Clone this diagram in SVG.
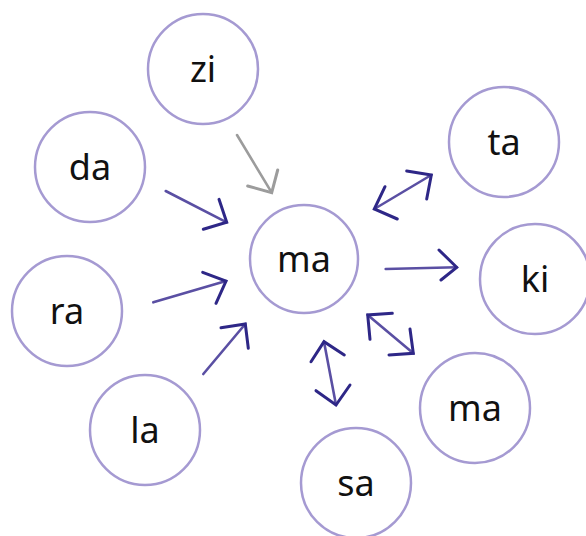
<svg xmlns="http://www.w3.org/2000/svg" width="586" height="536" viewBox="0 0 586 536">
<style>
.node circle{fill:#fff;stroke:#a59ad2;stroke-width:2.5}
.node text{font-family:"Noto Sans","DejaVu Sans",sans-serif;font-weight:450;font-size:36px;fill:#111;text-anchor:middle}
.ln{stroke:#5a4fa3;stroke-width:2.6;fill:none;stroke-linecap:round}
.hd{stroke:#2e2787;stroke-width:3;fill:none;stroke-linecap:round;stroke-linejoin:miter}
.gl{stroke:#9c9c9c;stroke-width:2.6;fill:none;stroke-linecap:round}
.gh{stroke:#9c9c9c;stroke-width:3;fill:none;stroke-linecap:round}
</style>
<rect width="586" height="536" fill="#fff"/>
<g id="n-zi" class="node"><circle cx="203" cy="69" r="55"/><text x="203" y="82">zi</text></g>
<g id="n-da" class="node"><circle cx="90" cy="167" r="55"/><text x="90" y="180">da</text></g>
<g id="n-ra" class="node"><circle cx="67" cy="311" r="55"/><text x="67" y="324">ra</text></g>
<g id="n-la" class="node"><circle cx="145" cy="430" r="55"/><text x="145" y="443">la</text></g>
<g id="n-ma" class="node"><circle cx="304" cy="259" r="54"/><text x="304" y="272">ma</text></g>
<g id="n-ta" class="node"><circle cx="504" cy="142" r="55"/><text x="504" y="155">ta</text></g>
<g id="n-ki" class="node"><circle cx="535" cy="279" r="55"/><text x="535" y="292">ki</text></g>
<g id="n-ma2" class="node"><circle cx="475" cy="408" r="55"/><text x="475" y="421">ma</text></g>
<g id="n-sa" class="node"><circle cx="356" cy="483" r="55"/><text x="356" y="496">sa</text></g>
<g id="connectors">
<line class="gl" x1="237" y1="135" x2="271.7" y2="192.7"/>
<polyline class="gh" points="277.7,170 271.7,192.7 247.7,186"/>
<line class="ln" x1="165.7" y1="191" x2="226.7" y2="222.3"/>
<polyline class="hd" points="219,199.3 226.7,222.3 203.3,229.3"/>
<line class="ln" x1="153.3" y1="302.3" x2="226" y2="281"/>
<polyline class="hd" points="202.7,272.3 226,281 216,303.3"/>
<line class="ln" x1="203.3" y1="374" x2="245.3" y2="324"/>
<polyline class="hd" points="221,327.7 245.3,324 248.3,348.3"/>
<line class="ln" x1="374.3" y1="209" x2="431.3" y2="175"/>
<polyline class="hd" points="406.7,171 431.3,175 426.7,199"/>
<polyline class="hd" points="385,186.7 374.3,209 397.3,219"/>
<line class="ln" x1="385.7" y1="269" x2="456.7" y2="267.3"/>
<polyline class="hd" points="439,250 456.7,267.3 441,280"/>
<line class="ln" x1="367.7" y1="315" x2="413.3" y2="353.3"/>
<polyline class="hd" points="392.3,313.3 367.7,315 370,339.3"/>
<polyline class="hd" points="410,329 413.3,353.3 389,355"/>
<line class="ln" x1="324" y1="341.7" x2="336" y2="405"/>
<polyline class="hd" points="311,361.7 324,341.7 344.3,355"/>
<polyline class="hd" points="316,390.7 336,405 350,385"/>
</g>
</svg>
